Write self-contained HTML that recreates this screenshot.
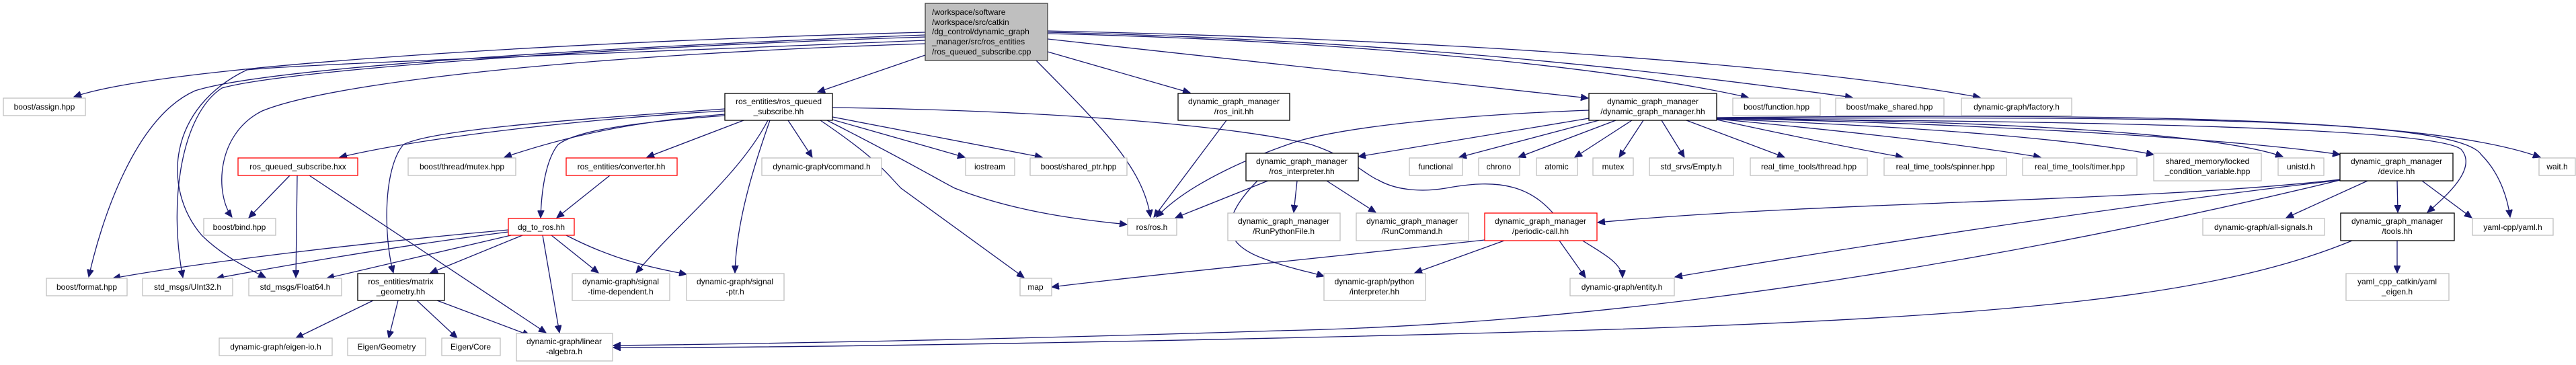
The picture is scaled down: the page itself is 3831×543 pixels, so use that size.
<!DOCTYPE html>
<html><head><meta charset="utf-8"><style>
html,body{margin:0;padding:0;background:#fff}
svg{display:block}
text{font-family:"Liberation Sans",sans-serif;font-size:12px;fill:#000}
.e{fill:none;stroke:#191970;stroke-width:1.3;marker-end:url(#a)}
.g{fill:#fff;stroke:#bfbfbf;stroke-width:1.3}
.b{fill:#fff;stroke:#000;stroke-width:1.3}
.r{fill:#fff;stroke:#ff0000;stroke-width:1.3}
</style></head><body>
<svg width="3831" height="543" viewBox="0 0 3831 543" xmlns="http://www.w3.org/2000/svg">
<defs><marker id="a" markerUnits="userSpaceOnUse" markerWidth="12" markerHeight="10" refX="11" refY="5" orient="auto"><path d="M0,0 L11,5 L0,10 z" fill="#191970" stroke="#191970"/></marker></defs>
<g>
<path class="e" d="M1376,48 C900,60 250,95 110,144"/>
<path class="e" d="M1376,52 C900,70 400,100 290,135 C200,175 150,330 132,412"/>
<path class="e" d="M1376,55 C900,70 420,105 330,131 C270,170 250,300 272,413"/>
<path class="e" d="M1376,60 C900,80 450,95 367,104 C250,160 240,280 300,350 C330,380 370,400 395,413"/>
<path class="e" d="M1376,65 C900,80 500,120 390,165 C320,200 320,290 345,323"/>
<path class="e" d="M1376,82 L1216,137"/>
<path class="e" d="M1541,90 C1640,190 1700,250 1711,323"/>
<path class="e" d="M1558,77 L1770,138"/>
<path class="e" d="M1558,58 L2362,146"/>
<path class="e" d="M1558,50 C2000,60 2400,100 2600,145"/>
<path class="e" d="M1558,48 C2100,60 2500,110 2755,145"/>
<path class="e" d="M1558,46 C2200,60 2700,100 2945,145"/>
<path class="e" d="M1078,165 C900,175 650,200 505,234"/>
<path class="e" d="M1078,170 C950,180 850,200 750,234"/>
<path class="e" d="M1106,179 L962,234"/>
<path class="e" d="M1078,172 C900,185 850,200 830,215 C810,240 805,290 804,324"/>
<path class="e" d="M1078,162 C900,175 650,190 600,215 C570,250 570,350 585,406"/>
<path class="e" d="M1172,179 L1208,234"/>
<path class="e" d="M1238,178 L1435,234"/>
<path class="e" d="M1238,174 L1550,234"/>
<path class="e" d="M1230,179 C1350,240 1400,270 1420,280 C1520,320 1640,330 1676,334"/>
<path class="e" d="M1220,179 C1310,240 1320,260 1340,280 L1523,413"/>
<path class="e" d="M1145,179 C1120,250 1095,330 1093,406"/>
<path class="e" d="M1142,179 C1100,260 1010,330 946,406"/>
<path class="e" d="M1238,160 C1600,165 1850,190 1950,215 C2010,235 2030,260 2050,268 C2080,285 2120,285 2150,280 C2230,265 2280,275 2320,330 C2340,360 2412,380 2413,413"/>
<path class="e" d="M1824,179 L1716,323"/>
<path class="e" d="M2363,164 C2150,172 2000,190 1930,210 C1870,230 1770,270 1720,323"/>
<path class="e" d="M2363,176 L2020,233"/>
<path class="e" d="M2378,179 L2170,234"/>
<path class="e" d="M2403,179 L2258,234"/>
<path class="e" d="M2427,179 L2342,234"/>
<path class="e" d="M2444,179 L2408,234"/>
<path class="e" d="M2471,179 L2505,234"/>
<path class="e" d="M2508,179 L2654,234"/>
<path class="e" d="M2553,178 C2700,210 2780,225 2830,234"/>
<path class="e" d="M2553,177 C2800,200 2950,220 3035,234"/>
<path class="e" d="M2553,177 C2900,190 3100,210 3203,230"/>
<path class="e" d="M2553,176 C3000,180 3300,200 3395,233"/>
<path class="e" d="M2553,176 C3000,185 3350,210 3480,230"/>
<path class="e" d="M2553,177 C3100,180 3620,190 3660,222 C3685,250 3640,290 3610,316"/>
<path class="e" d="M2553,176 C3100,175 3650,170 3690,230 C3720,260 3730,300 3733,323"/>
<path class="e" d="M2553,175 C3100,170 3600,170 3778,234"/>
<path class="e" d="M1888,268 L1748,324"/>
<path class="e" d="M1929,269 L1924,316"/>
<path class="e" d="M1973,269 L2046,316"/>
<path class="e" d="M1870,269 C1820,320 1810,360 1880,385 C1920,400 1950,405 1969,411"/>
<path class="e" d="M2208,357 C2000,380 1700,410 1564,427"/>
<path class="e" d="M2237,358 L2104,406"/>
<path class="e" d="M2319,358 L2358,413"/>
<path class="e" d="M3480,267 C3200,300 2700,300 2376,331"/>
<path class="e" d="M3480,268 C3200,300 2800,360 2491,412"/>
<path class="e" d="M3480,268 C3100,360 2500,480 1900,492 C1500,505 1100,512 912,514"/>
<path class="e" d="M3521,269 L3400,324"/>
<path class="e" d="M3565,269 L3566,316"/>
<path class="e" d="M3602,269 L3676,324"/>
<path class="e" d="M3498,358 C3300,440 3000,470 2400,490 C1900,505 1200,518 912,517"/>
<path class="e" d="M3565,358 L3565,406"/>
<path class="e" d="M431,261 L370,324"/>
<path class="e" d="M442,261 L440,413"/>
<path class="e" d="M460,261 L812,495"/>
<path class="e" d="M907,261 L828,324"/>
<path class="e" d="M756,342 C550,360 300,390 168,414"/>
<path class="e" d="M756,345 C600,365 450,390 322,414"/>
<path class="e" d="M760,350 L486,414"/>
<path class="e" d="M777,350 L640,406"/>
<path class="e" d="M807,350 L832,495"/>
<path class="e" d="M820,350 L890,406"/>
<path class="e" d="M842,350 C900,380 950,395 1021,408"/>
<path class="e" d="M555,447 L440,503"/>
<path class="e" d="M592,447 L578,503"/>
<path class="e" d="M620,447 L680,503"/>
<path class="e" d="M650,447 L788,499"/>
</g>
<g>
<rect x="1376" y="5" width="182" height="85" fill="#bfbfbf" stroke="#404040" stroke-width="1.3"/>
<text x="1386" y="22">/workspace/software</text>
<text x="1386" y="37">/workspace/src/catkin</text>
<text x="1386" y="51">/dg_control/dynamic_graph</text>
<text x="1386" y="66">_manager/src/ros_entities</text>
<text x="1386" y="81">/ros_queued_subscribe.cpp</text>
</g>
<g text-anchor="middle">
<rect class="g" x="5" y="146" width="122" height="26"/><text x="66" y="163">boost/assign.hpp</text>
<rect class="r" x="354" y="235" width="178" height="26"/><text x="443" y="252">ros_queued_subscribe.hxx</text>
<rect class="g" x="607" y="235" width="160" height="26"/><text x="687" y="252">boost/thread/mutex.hpp</text>
<rect class="r" x="842" y="235" width="165" height="26"/><text x="924" y="252">ros_entities/converter.hh</text>
<rect class="g" x="303" y="325" width="107" height="25"/><text x="356" y="342">boost/bind.hpp</text>
<rect class="r" x="756" y="325" width="98" height="25"/><text x="805" y="342">dg_to_ros.hh</text>
<rect class="g" x="69" y="414" width="120" height="26"/><text x="129" y="431">boost/format.hpp</text>
<rect class="g" x="212" y="414" width="134" height="26"/><text x="279" y="431">std_msgs/UInt32.h</text>
<rect class="g" x="370" y="414" width="138" height="26"/><text x="439" y="431">std_msgs/Float64.h</text>
<rect class="b" x="532" y="407" width="129" height="40"/><text x="596" y="423">ros_entities/matrix</text><text x="596" y="438">_geometry.hh</text>
<rect class="g" x="851" y="407" width="145" height="40"/><text x="923" y="423">dynamic-graph/signal</text><text x="923" y="438">-time-dependent.h</text>
<rect class="g" x="326" y="503" width="168" height="26"/><text x="410" y="520">dynamic-graph/eigen-io.h</text>
<rect class="g" x="517" y="503" width="116" height="26"/><text x="575" y="520">Eigen/Geometry</text>
<rect class="g" x="657" y="503" width="87" height="26"/><text x="700" y="520">Eigen/Core</text>
<rect class="g" x="768" y="496" width="143" height="41"/><text x="839" y="512">dynamic-graph/linear</text><text x="839" y="527">-algebra.h</text>
<rect class="b" x="1078" y="139" width="160" height="40"/><text x="1158" y="155">ros_entities/ros_queued</text><text x="1158" y="170">_subscribe.hh</text>
<rect class="b" x="1752" y="139" width="166" height="40"/><text x="1835" y="155">dynamic_graph_manager</text><text x="1835" y="170">/ros_init.hh</text>
<rect class="g" x="1133" y="235" width="178" height="26"/><text x="1222" y="252">dynamic-graph/command.h</text>
<rect class="g" x="1436" y="235" width="73" height="26"/><text x="1472" y="252">iostream</text>
<rect class="g" x="1532" y="235" width="144" height="26"/><text x="1604" y="252">boost/shared_ptr.hpp</text>
<rect class="g" x="1677" y="325" width="73" height="25"/><text x="1713" y="342">ros/ros.h</text>
<rect class="b" x="1853" y="228" width="167" height="41"/><text x="1936" y="244">dynamic_graph_manager</text><text x="1936" y="259">/ros_interpreter.hh</text>
<rect class="g" x="1021" y="407" width="145" height="40"/><text x="1093" y="423">dynamic-graph/signal</text><text x="1093" y="438">-ptr.h</text>
<rect class="g" x="1517" y="414" width="47" height="26"/><text x="1540" y="431">map</text>
<rect class="g" x="1826" y="317" width="167" height="41"/><text x="1909" y="333">dynamic_graph_manager</text><text x="1909" y="348">/RunPythonFile.h</text>
<rect class="b" x="2363" y="139" width="190" height="40"/><text x="2458" y="155">dynamic_graph_manager</text><text x="2458" y="170">/dynamic_graph_manager.hh</text>
<rect class="g" x="2577" y="146" width="130" height="26"/><text x="2642" y="163">boost/function.hpp</text>
<rect class="g" x="2730" y="146" width="161" height="26"/><text x="2810" y="163">boost/make_shared.hpp</text>
<rect class="g" x="2096" y="235" width="79" height="26"/><text x="2135" y="252">functional</text>
<rect class="g" x="2199" y="235" width="61" height="26"/><text x="2229" y="252">chrono</text>
<rect class="g" x="2285" y="235" width="61" height="26"/><text x="2315" y="252">atomic</text>
<rect class="g" x="2369" y="235" width="60" height="26"/><text x="2399" y="252">mutex</text>
<rect class="g" x="2453" y="235" width="125" height="26"/><text x="2515" y="252">std_srvs/Empty.h</text>
<rect class="g" x="2603" y="235" width="174" height="26"/><text x="2690" y="252">real_time_tools/thread.hpp</text>
<rect class="g" x="2802" y="235" width="182" height="26"/><text x="2893" y="252">real_time_tools/spinner.hpp</text>
<rect class="g" x="2017" y="317" width="167" height="41"/><text x="2100" y="333">dynamic_graph_manager</text><text x="2100" y="348">/RunCommand.h</text>
<rect class="r" x="2208" y="317" width="167" height="41"/><text x="2291" y="333">dynamic_graph_manager</text><text x="2291" y="348">/periodic-call.hh</text>
<rect class="g" x="1969" y="407" width="151" height="40"/><text x="2044" y="423">dynamic-graph/python</text><text x="2044" y="438">/interpreter.hh</text>
<rect class="g" x="2335" y="414" width="155" height="26"/><text x="2412" y="431">dynamic-graph/entity.h</text>
<rect class="g" x="2917" y="146" width="164" height="26"/><text x="2999" y="163">dynamic-graph/factory.h</text>
<rect class="g" x="3008" y="235" width="170" height="26"/><text x="3093" y="252">real_time_tools/timer.hpp</text>
<rect class="g" x="3203" y="228" width="160" height="41"/><text x="3283" y="244">shared_memory/locked</text><text x="3283" y="259">_condition_variable.hpp</text>
<rect class="g" x="3388" y="235" width="68" height="26"/><text x="3422" y="252">unistd.h</text>
<rect class="b" x="3480" y="228" width="168" height="41"/><text x="3564" y="244">dynamic_graph_manager</text><text x="3564" y="259">/device.hh</text>
<rect class="g" x="3776" y="235" width="54" height="26"/><text x="3803" y="252">wait.h</text>
<rect class="g" x="3276" y="325" width="181" height="25"/><text x="3366" y="342">dynamic-graph/all-signals.h</text>
<rect class="b" x="3481" y="317" width="169" height="41"/><text x="3565" y="333">dynamic_graph_manager</text><text x="3565" y="348">/tools.hh</text>
<rect class="g" x="3677" y="325" width="120" height="25"/><text x="3737" y="342">yaml-cpp/yaml.h</text>
<rect class="g" x="3489" y="407" width="153" height="40"/><text x="3565" y="423">yaml_cpp_catkin/yaml</text><text x="3565" y="438">_eigen.h</text>
</g>
</svg>
</body></html>
